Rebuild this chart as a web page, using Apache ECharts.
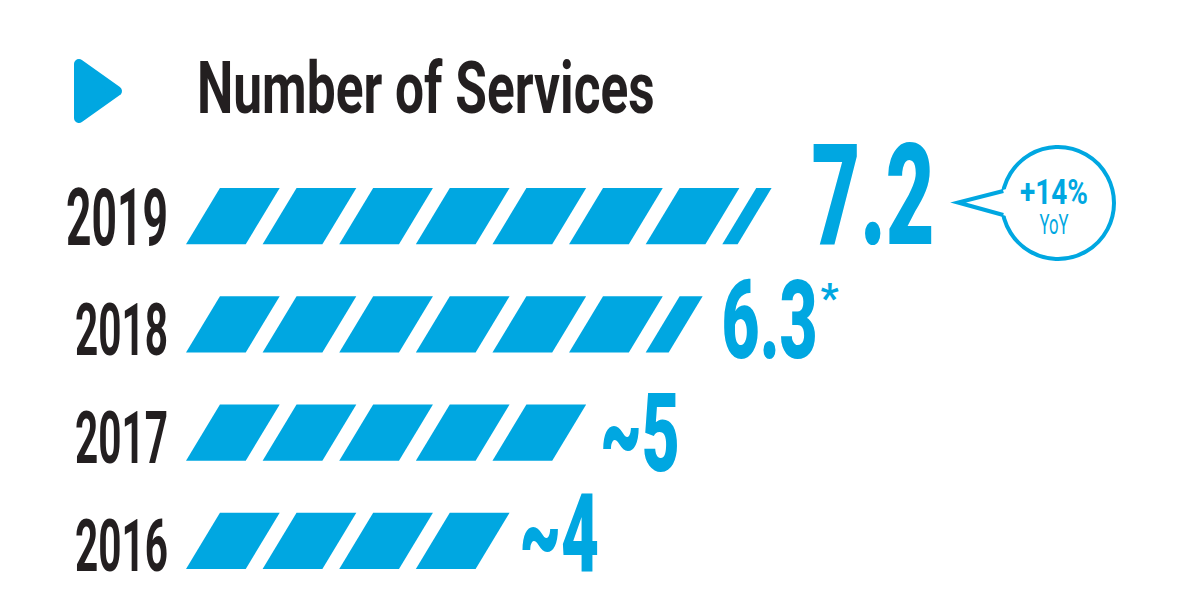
<!DOCTYPE html>
<html>
<head>
<meta charset="utf-8">
<script src="https://cdn.jsdelivr.net/npm/echarts@6/dist/echarts.min.js"></script>
<style>
html,body{margin:0;padding:0;background:#fff;}
#chart{width:1200px;height:611px;}
</style>
</head>
<body>
<div id="chart"></div>
<script>
// ---- data ----
const categories = ['2016', '2017', '2018', '2019'];
const values = [4, 5, 6.3, 7.2];
const valueLabels = ['~4', '~5', '6.3', '7.2'];
const labelNotes = ['', '', '*', ''];
const titleText = 'Number of Services';
const yoyText = '+14%';
const yoySub = 'YoY';

// ---- style / layout ----
const BLUE = '#00a7e1';
const INK = '#231f20';
const FONT = 'Roboto';
const SLANT = 0.443;   // parallelogram slant in units
const PIECE = 0.78;    // parallelogram width in units
const yearSize = [73, 73, 73, 80];
const yearDy = [5, 5, 5, 2];
const valSize = [110, 110, 110, 141];
const valGap = [10, 14, 19, 40];
const valDy = [-7, 1, -4, -21];

function measure(text, font) {
  const c = document.createElement('canvas').getContext('2d');
  c.font = font;
  return c.measureText(text).width;
}
const sVal = 96 / measure('6.3', '900 110px ' + FONT);
const sYear = 93 / measure('2018', 'bold 73px ' + FONT);
const sTitle = 458 / measure(titleText, 'bold 73px ' + FONT);
const sYoy = 68 / measure(yoyText, 'bold 35px ' + FONT);
const sSub = 29 / measure(yoySub, 'normal 28px ' + FONT);

function renderItem(params, api) {
  const i = params.dataIndex;
  const val = api.value(0);
  const cat = api.value(1);
  const cy = api.coord([0, cat])[1];
  const band = api.size([0, 1])[1];
  const half = band * 0.259;
  const yt = cy - half, yb = cy + half;
  const X = v => api.coord([v, cat])[0];
  const children = [];
  const n = Math.floor(val + 1e-9);
  const frac = Math.round((val - n) * 100) / 100;
  let endTR = X(0);
  for (let k = 0; k < n; k++) {
    children.push({
      type: 'polygon',
      shape: { points: [[X(k), yb], [X(k + SLANT), yt], [X(k + SLANT + PIECE), yt], [X(k + PIECE), yb]] },
      style: { fill: BLUE }
    });
    endTR = X(k + SLANT + PIECE);
  }
  if (frac > 0) {
    children.push({
      type: 'polygon',
      shape: { points: [[X(n), yb], [X(n + SLANT), yt], [X(n + SLANT + frac), yt], [X(n + frac), yb]] },
      style: { fill: BLUE }
    });
    endTR = X(n + SLANT + frac);
  }
  children.push({
    type: 'text',
    x: X(0) - 18, y: cy + yearDy[i], scaleX: sYear,
    style: { text: categories[i], fill: INK, font: 'bold ' + yearSize[i] + 'px ' + FONT, align: 'right', verticalAlign: 'middle' }
  });
  const lx = endTR + valGap[i];
  const vfont = '900 ' + valSize[i] + 'px ' + FONT;
  children.push({
    type: 'text',
    x: lx, y: cy + valDy[i], scaleX: sVal,
    style: { text: valueLabels[i], fill: BLUE, font: vfont, align: 'left', verticalAlign: 'middle' }
  });
  if (labelNotes[i]) {
    const w = measure(valueLabels[i], vfont) * sVal;
    children.push({
      type: 'text',
      x: lx + w + 3, y: cy - 26,
      style: { text: labelNotes[i], fill: BLUE, font: 'bold 40px ' + FONT, align: 'left', verticalAlign: 'middle' }
    });
  }
  return { type: 'group', children: children };
}

const chart = echarts.init(document.getElementById('chart'), null, { renderer: 'svg' });
chart.setOption({
  animation: false,
  backgroundColor: '#ffffff',
  grid: { left: 186, right: 18, top: 162, bottom: 16 },
  xAxis: { type: 'value', min: 0, max: 13, show: false },
  yAxis: { type: 'category', data: categories, show: false },
  series: [{
    type: 'custom',
    renderItem: renderItem,
    data: values.map((v, i) => [v, i]),
    clip: false
  }],
  graphic: [
    {
      type: 'polygon',
      shape: { points: [[79, 64], [117, 91], [79, 118]] },
      style: { fill: BLUE, stroke: BLUE, lineWidth: 10, lineJoin: 'round' }
    },
    {
      type: 'text',
      x: 197, y: 88, scaleX: sTitle,
      style: { text: titleText, fill: INK, font: 'bold 73px ' + FONT, align: 'left', verticalAlign: 'middle' }
    },
    {
      type: 'circle',
      shape: { cx: 1058, cy: 203, r: 56 },
      style: { fill: '#fff', stroke: BLUE, lineWidth: 4 }
    },
    {
      type: 'polygon',
      shape: { points: [[1010, 188], [958, 202.5], [1010, 217]] },
      style: { fill: '#fff' }
    },
    {
      type: 'polyline',
      shape: { points: [[1003.3, 191], [958, 202.5], [1003.3, 215]] },
      style: { stroke: BLUE, lineWidth: 4, fill: null, lineJoin: 'miter' }
    },
    {
      type: 'text',
      x: 1054, y: 192, scaleX: sYoy,
      style: { text: yoyText, fill: BLUE, font: 'bold 35px ' + FONT, align: 'center', verticalAlign: 'middle' }
    },
    {
      type: 'text',
      x: 1054, y: 225, scaleX: sSub,
      style: { text: yoySub, fill: BLUE, font: 'normal 28px ' + FONT, align: 'center', verticalAlign: 'middle' }
    }
  ]
});
</script>
</body>
</html>
